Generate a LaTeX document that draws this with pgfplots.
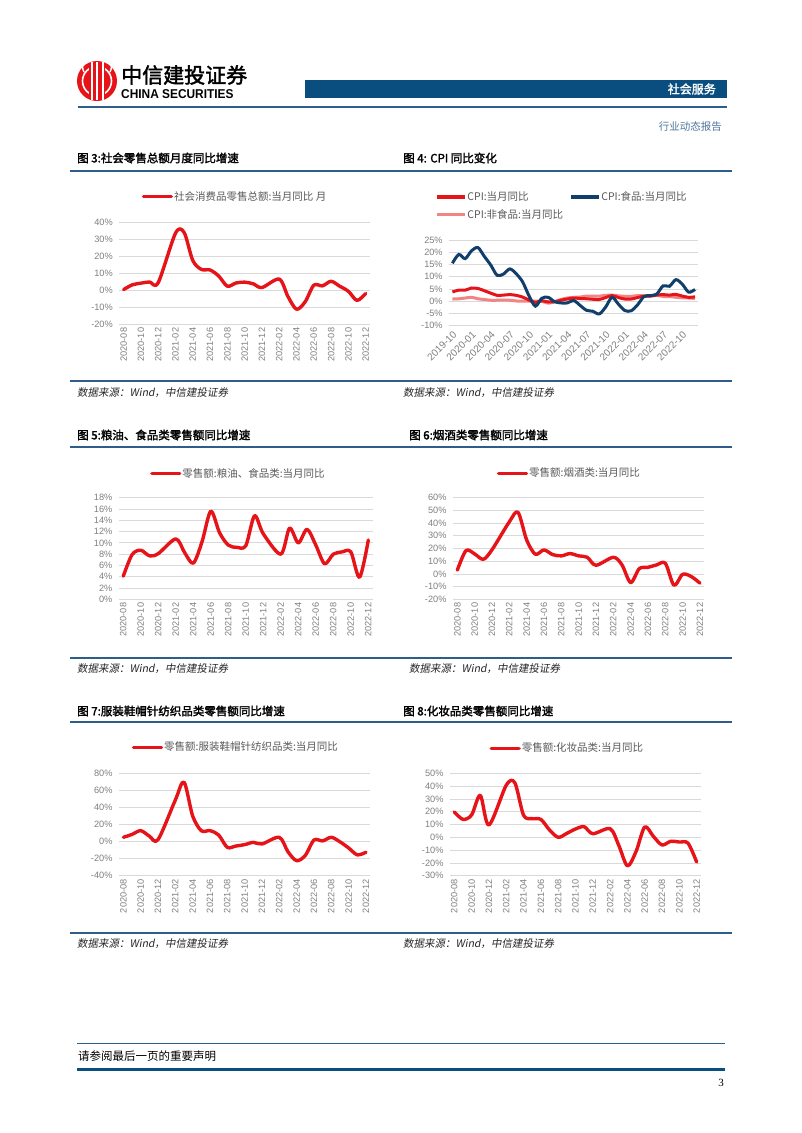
\documentclass[border=0pt]{standalone}
\usepackage{fontspec}
\usepackage{pgfplots}
\pgfplotsset{compat=1.18}
\setmainfont{Liberation Sans}
\newfontfamily\cjk{Noto Sans CJK SC}
\newfontfamily\cjkb[FakeBold=2]{Noto Sans CJK SC}
\newfontfamily\cjkit[FakeSlant=0.18]{Noto Sans CJK SC}
\newfontfamily\serifb{Liberation Serif}
\definecolor{cred}{RGB}{230,20,25}
\definecolor{cnavy}{RGB}{16,63,107}
\definecolor{cpink}{RGB}{242,132,132}
\definecolor{hblue}{RGB}{10,78,128}
\definecolor{lblue}{RGB}{47,93,138}
\definecolor{tgray}{RGB}{128,128,128}
\definecolor{lgray}{RGB}{89,89,89}
\definecolor{ggray}{RGB}{217,217,217}
\pgfplotsset{
  pg/.style={
    scale only axis, clip=false,
    axis line style={draw=none},
    major tick style={draw=none},
    ymajorgrids, grid style={draw=ggray, line width=0.8pt},
    /pgf/number format/assume math mode=true,
    tick label style={font=\fontsize{9.2}{10}\selectfont, text=tgray},
    yticklabel style={xshift=-3pt},
    legend style={draw=none, fill=none, font=\cjk\fontsize{10.5}{12}\selectfont, text=lgray, inner sep=0pt,
      nodes={inner sep=0pt},
      /tikz/every odd column/.append style={column sep=1pt},
      /tikz/every even column/.append style={column sep=6pt}},
    legend image code/.code={\draw[#1, line width=3.2pt] (0pt,0pt) -- (28pt,0pt);},
    legend cell align=left,
  },
  mchart/.style={pg, xmin=-0.5, xmax=28.5, xtick={0,2,...,28},
    xticklabels={2020-08,2020-10,2020-12,2021-02,2021-04,2021-06,2021-08,2021-10,2021-12,2022-02,2022-04,2022-06,2022-08,2022-10,2022-12},
    xticklabel style={rotate=90, anchor=east}},
  redl/.style={cred, line width=3.4pt, smooth, tension=0.5, line join=round, line cap=round},
}
\begin{document}
\begin{tikzpicture}
\begin{scope}[x=1pt,y=-1pt]
\fill[white] (0,0) rectangle (802,1133);
\useasboundingbox (0,0) rectangle (802,1133);
% header logo
\fill[cred] (97,81) circle (20);
\draw[white, line width=1.6] (97,81) circle (14.5);
\fill[cred] (89,64) rectangle (105,98);
\fill[white] (90.5,62) rectangle (92.5,100);
\fill[white] (96,62) rectangle (98,100);
\fill[white] (101.5,62) rectangle (103.5,100);
\draw[white, line width=1.4] (84,72) arc (150:210:10);
\draw[white, line width=1.4] (110,72) arc (30:-30:10);
\node[anchor=west, inner sep=0] at (121,75) {\cjkb\fontsize{21}{21}\selectfont 中信建投证券};
\node[anchor=west, inner sep=0, xscale=0.93] at (121,94.5) {\bfseries\fontsize{12.8}{13}\selectfont CHINA SECURITIES};
\fill[hblue] (305,80) rectangle (727,98);
\node[anchor=east, text=white, inner sep=0] at (716,89) {\cjkb\fontsize{12}{12}\selectfont 社会服务};
\draw[lblue, line width=1.3] (78,107) -- (727,107);
\node[anchor=east, text=lblue!85, inner sep=0] at (722,127) {\cjk\fontsize{10.5}{11}\selectfont 行业动态报告};
% section titles and rules
\node[anchor=west, inner sep=0] at (77,158) {\cjkb\fontsize{11.5}{12}\selectfont 图 3:社会零售总额月度同比增速};
\node[anchor=west, inner sep=0] at (403,158) {\cjkb\fontsize{11.5}{12}\selectfont 图 4: CPI 同比变化};
\draw[lblue, line width=2] (70,171) -- (732,171);
\draw[lblue, line width=1.6] (70,381) -- (732,381);
\node[anchor=west, inner sep=0, text=black!85] at (77,393) {\cjkit\fontsize{10.5}{11}\selectfont 数据来源：Wind，中信建投证券};
\node[anchor=west, inner sep=0, text=black!85] at (403,393) {\cjkit\fontsize{10.5}{11}\selectfont 数据来源：Wind，中信建投证券};
\node[anchor=west, inner sep=0] at (77,435) {\cjkb\fontsize{11.5}{12}\selectfont 图 5:粮油、食品类零售额同比增速};
\node[anchor=west, inner sep=0] at (409,435) {\cjkb\fontsize{11.5}{12}\selectfont 图 6:烟酒类零售额同比增速};
\draw[lblue, line width=2] (70,447) -- (732,447);
\draw[lblue, line width=1.6] (70,658) -- (732,658);
\node[anchor=west, inner sep=0, text=black!85] at (77,669) {\cjkit\fontsize{10.5}{11}\selectfont 数据来源：Wind，中信建投证券};
\node[anchor=west, inner sep=0, text=black!85] at (409,669) {\cjkit\fontsize{10.5}{11}\selectfont 数据来源：Wind，中信建投证券};
\node[anchor=west, inner sep=0] at (77,711) {\cjkb\fontsize{11.5}{12}\selectfont 图 7:服装鞋帽针纺织品类零售额同比增速};
\node[anchor=west, inner sep=0] at (403,711) {\cjkb\fontsize{11.5}{12}\selectfont 图 8:化妆品类零售额同比增速};
\draw[lblue, line width=2] (70,722) -- (732,722);
\draw[lblue, line width=1.6] (70,933) -- (732,933);
\node[anchor=west, inner sep=0, text=black!85] at (77,944) {\cjkit\fontsize{10.5}{11}\selectfont 数据来源：Wind，中信建投证券};
\node[anchor=west, inner sep=0, text=black!85] at (403,944) {\cjkit\fontsize{10.5}{11}\selectfont 数据来源：Wind，中信建投证券};
% footer
\draw[lblue, line width=1] (77,1043) -- (725,1043);
\node[anchor=west, inner sep=0] at (78,1056) {\cjk\fontsize{11.5}{12}\selectfont 请参阅最后一页的重要声明};
\draw[hblue, line width=3] (77,1069) -- (725,1069);
\node[anchor=east, inner sep=0] at (724,1083) {\serifb\fontsize{11}{11}\selectfont 3};
\end{scope}

% ---------- Chart 3
\begin{axis}[mchart, at={(119.3pt,-222.7pt)}, anchor=north west, width=250.7pt, height=101.6pt,
  ymin=-20, ymax=40, ytick={-20,-10,...,40}, yticklabels={-20\%,-10\%,0\%,10\%,20\%,30\%,40\%},
  legend style={at={(axis description cs:0.089,1.256)}, anchor=west}]
\addplot[redl] coordinates {(0,0.5)(1,3.3)(2,4.3)(3,5.0)(4,4.6)(6,33.8)(7,34.2)(8,17.7)(9,12.4)(10,12.1)(11,8.5)(12,2.5)(13,4.4)(14,4.9)(15,3.9)(16,1.7)(18,6.7)(19,-3.5)(20,-11.1)(21,-6.7)(22,3.1)(23,2.7)(24,5.4)(25,2.5)(26,-0.5)(27,-5.9)(28,-1.8)};
\addlegendentry{社会消费品零售总额:当月同比 月}
\end{axis}

% ---------- Chart 4 CPI
\begin{axis}[pg, at={(449.2pt,-240pt)}, anchor=north west, width=249pt, height=85.7pt,
  xmin=-0.5, xmax=38.5, xtick={0,3,...,36},
  xticklabels={2019-10,2020-01,2020-04,2020-07,2020-10,2021-01,2021-04,2021-07,2021-10,2022-01,2022-04,2022-07,2022-10},
  xticklabel style={rotate=45, anchor=north east, font=\fontsize{10}{10}\selectfont},
  ymin=-10, ymax=25, ytick={-10,-5,...,25}, yticklabels={-10\%,-5\%,0\%,5\%,10\%,15\%,20\%,25\%},
  legend columns=2,
  legend style={at={(axis description cs:-0.057,1.40)}, anchor=west, row sep=7pt}]
\addlegendimage{cred, line width=3pt}
\addlegendentry{CPI:当月同比}
\addlegendimage{cnavy, line width=3pt}
\addlegendentry{CPI:食品:当月同比}
\addlegendimage{cpink, line width=3pt}
\addlegendentry{CPI:非食品:当月同比}
\addplot[cpink, line width=3pt, smooth, tension=0.5, forget plot] coordinates {(0,0.9)(1,1.0)(2,1.3)(3,1.6)(4,1.0)(5,0.7)(6,0.4)(7,0.4)(8,0.4)(9,0.4)(10,0.1)(11,0.0)(12,0.0)(13,0.0)(14,0.0)(15,-0.8)(16,-0.2)(17,0.7)(18,1.3)(19,1.6)(20,1.7)(21,2.1)(22,2.1)(23,2.1)(24,2.4)(25,2.5)(26,2.2)(27,2.0)(28,2.0)(29,2.3)(30,2.2)(31,2.1)(32,2.5)(33,1.9)(34,1.9)(35,1.6)(36,1.4)(37,1.3)(38,1.1)};
\addplot[cred, line width=3pt, smooth, tension=0.5, forget plot] coordinates {(0,3.8)(1,4.5)(2,4.5)(3,5.4)(4,5.2)(5,4.3)(6,3.3)(7,2.4)(8,2.5)(9,2.7)(10,2.4)(11,1.7)(12,0.5)(13,-0.5)(14,0.2)(15,-0.3)(16,-0.2)(17,0.4)(18,0.9)(19,1.3)(20,1.1)(21,1.0)(22,0.8)(23,0.7)(24,1.5)(25,2.3)(26,1.5)(27,0.9)(28,0.9)(29,1.5)(30,2.1)(31,2.1)(32,2.5)(33,2.7)(34,2.5)(35,2.8)(36,2.1)(37,1.6)(38,1.8)};
\addplot[cnavy, line width=3pt, smooth, tension=0.5, forget plot] coordinates {(0,15.5)(1,19.1)(2,17.4)(3,20.6)(4,21.9)(5,18.3)(6,14.8)(7,10.6)(8,11.1)(9,13.2)(10,11.2)(11,7.9)(12,2.2)(13,-2.0)(14,1.2)(15,1.6)(16,-0.2)(17,-0.7)(18,-0.7)(19,0.3)(20,-1.7)(21,-3.7)(22,-4.1)(23,-5.2)(24,-2.4)(25,1.6)(26,-1.2)(27,-3.8)(28,-3.9)(29,-1.5)(30,1.9)(31,2.3)(32,2.9)(33,6.3)(34,6.1)(35,8.8)(36,7.0)(37,3.7)(38,4.8)};
\end{axis}

% ---------- Chart 5
\begin{axis}[mchart, at={(118.9pt,-497.7pt)}, anchor=north west, width=253.8pt, height=101.6pt,
  ymin=0, ymax=18, ytick={0,2,...,18}, yticklabels={0\%,2\%,4\%,6\%,8\%,10\%,12\%,14\%,16\%,18\%},
  legend style={at={(axis description cs:0.1225,1.240)}, anchor=west}]
\addplot[redl] coordinates {(0,4.1)(1,7.9)(2,8.7)(3,7.7)(4,8.1)(6,10.7)(7,8.3)(8,6.4)(9,10.2)(10,15.6)(11,11.8)(12,9.6)(13,9.2)(14,9.5)(15,14.8)(16,11.6)(18,8.0)(19,12.6)(20,10.0)(21,12.4)(22,9.6)(23,6.3)(24,8.0)(25,8.4)(26,8.4)(27,3.9)(28,10.5)};
\addlegendentry{零售额:粮油、食品类:当月同比}
\end{axis}

% ---------- Chart 6
\begin{axis}[mchart, at={(453pt,-497.7pt)}, anchor=north west, width=251.3pt, height=101.6pt,
  ymin=-20, ymax=60, ytick={-20,-10,...,60}, yticklabels={-20\%,-10\%,0\%,10\%,20\%,30\%,40\%,50\%,60\%},
  legend style={at={(axis description cs:0.174,1.240)}, anchor=west}]
\addplot[redl] coordinates {(0,3)(1,18.4)(2,15.7)(3,11.5)(4,19)(6,41)(7,48.5)(8,26.7)(9,15.5)(10,18.9)(11,15.2)(12,14.2)(13,16)(14,14.2)(15,13.1)(16,6.8)(18,13.1)(19,7.1)(20,-6.8)(21,4.2)(22,5.2)(23,7.1)(24,8.4)(25,-8.9)(26,-0.3)(27,-2.1)(28,-7.3)};
\addlegendentry{零售额:烟酒类:当月同比}
\end{axis}

% ---------- Chart 7
\begin{axis}[mchart, at={(119pt,-773.3pt)}, anchor=north west, width=251.3pt, height=102.4pt,
  ymin=-40, ymax=80, ytick={-40,-20,...,80}, yticklabels={-40\%,-20\%,0\%,20\%,40\%,60\%,80\%},
  legend style={at={(axis description cs:0.0505,1.254)}, anchor=west}]
\addplot[redl] coordinates {(0,5)(1,8.4)(2,12.8)(3,6.5)(4,2.2)(6,48.7)(7,69.7)(8,30)(9,12.7)(10,12.8)(11,7.7)(12,-6.8)(13,-5.2)(14,-3.6)(15,-0.9)(16,-2.8)(18,5.0)(19,-12.0)(20,-22.4)(21,-16.2)(22,1.8)(23,0.8)(24,5.0)(25,-0.3)(26,-7.5)(27,-15.6)(28,-12.5)};
\addlegendentry{零售额:服装鞋帽针纺织品类:当月同比}
\end{axis}

% ---------- Chart 8
\begin{axis}[mchart, at={(450pt,-773.3pt)}, anchor=north west, width=251pt, height=102.4pt,
  ymin=-30, ymax=50, ytick={-30,-20,...,50}, yticklabels={-30\%,-20\%,-10\%,0\%,10\%,20\%,30\%,40\%,50\%},
  legend style={at={(axis description cs:0.157,1.244)}, anchor=west}]
\addplot[redl] coordinates {(0,19.8)(1,14)(2,17.5)(3,32.8)(4,9.6)(6,40.7)(7,42.5)(8,17.2)(9,14.6)(10,14)(11,5.7)(12,0)(13,3.1)(14,6.5)(15,8.3)(16,2.8)(18,6.7)(19,-6.3)(20,-22.3)(21,-11)(22,8.1)(23,0.7)(24,-6.0)(25,-3.1)(26,-3.7)(27,-4.6)(28,-19.3)};
\addlegendentry{零售额:化妆品类:当月同比}
\end{axis}
\end{tikzpicture}
\end{document}
